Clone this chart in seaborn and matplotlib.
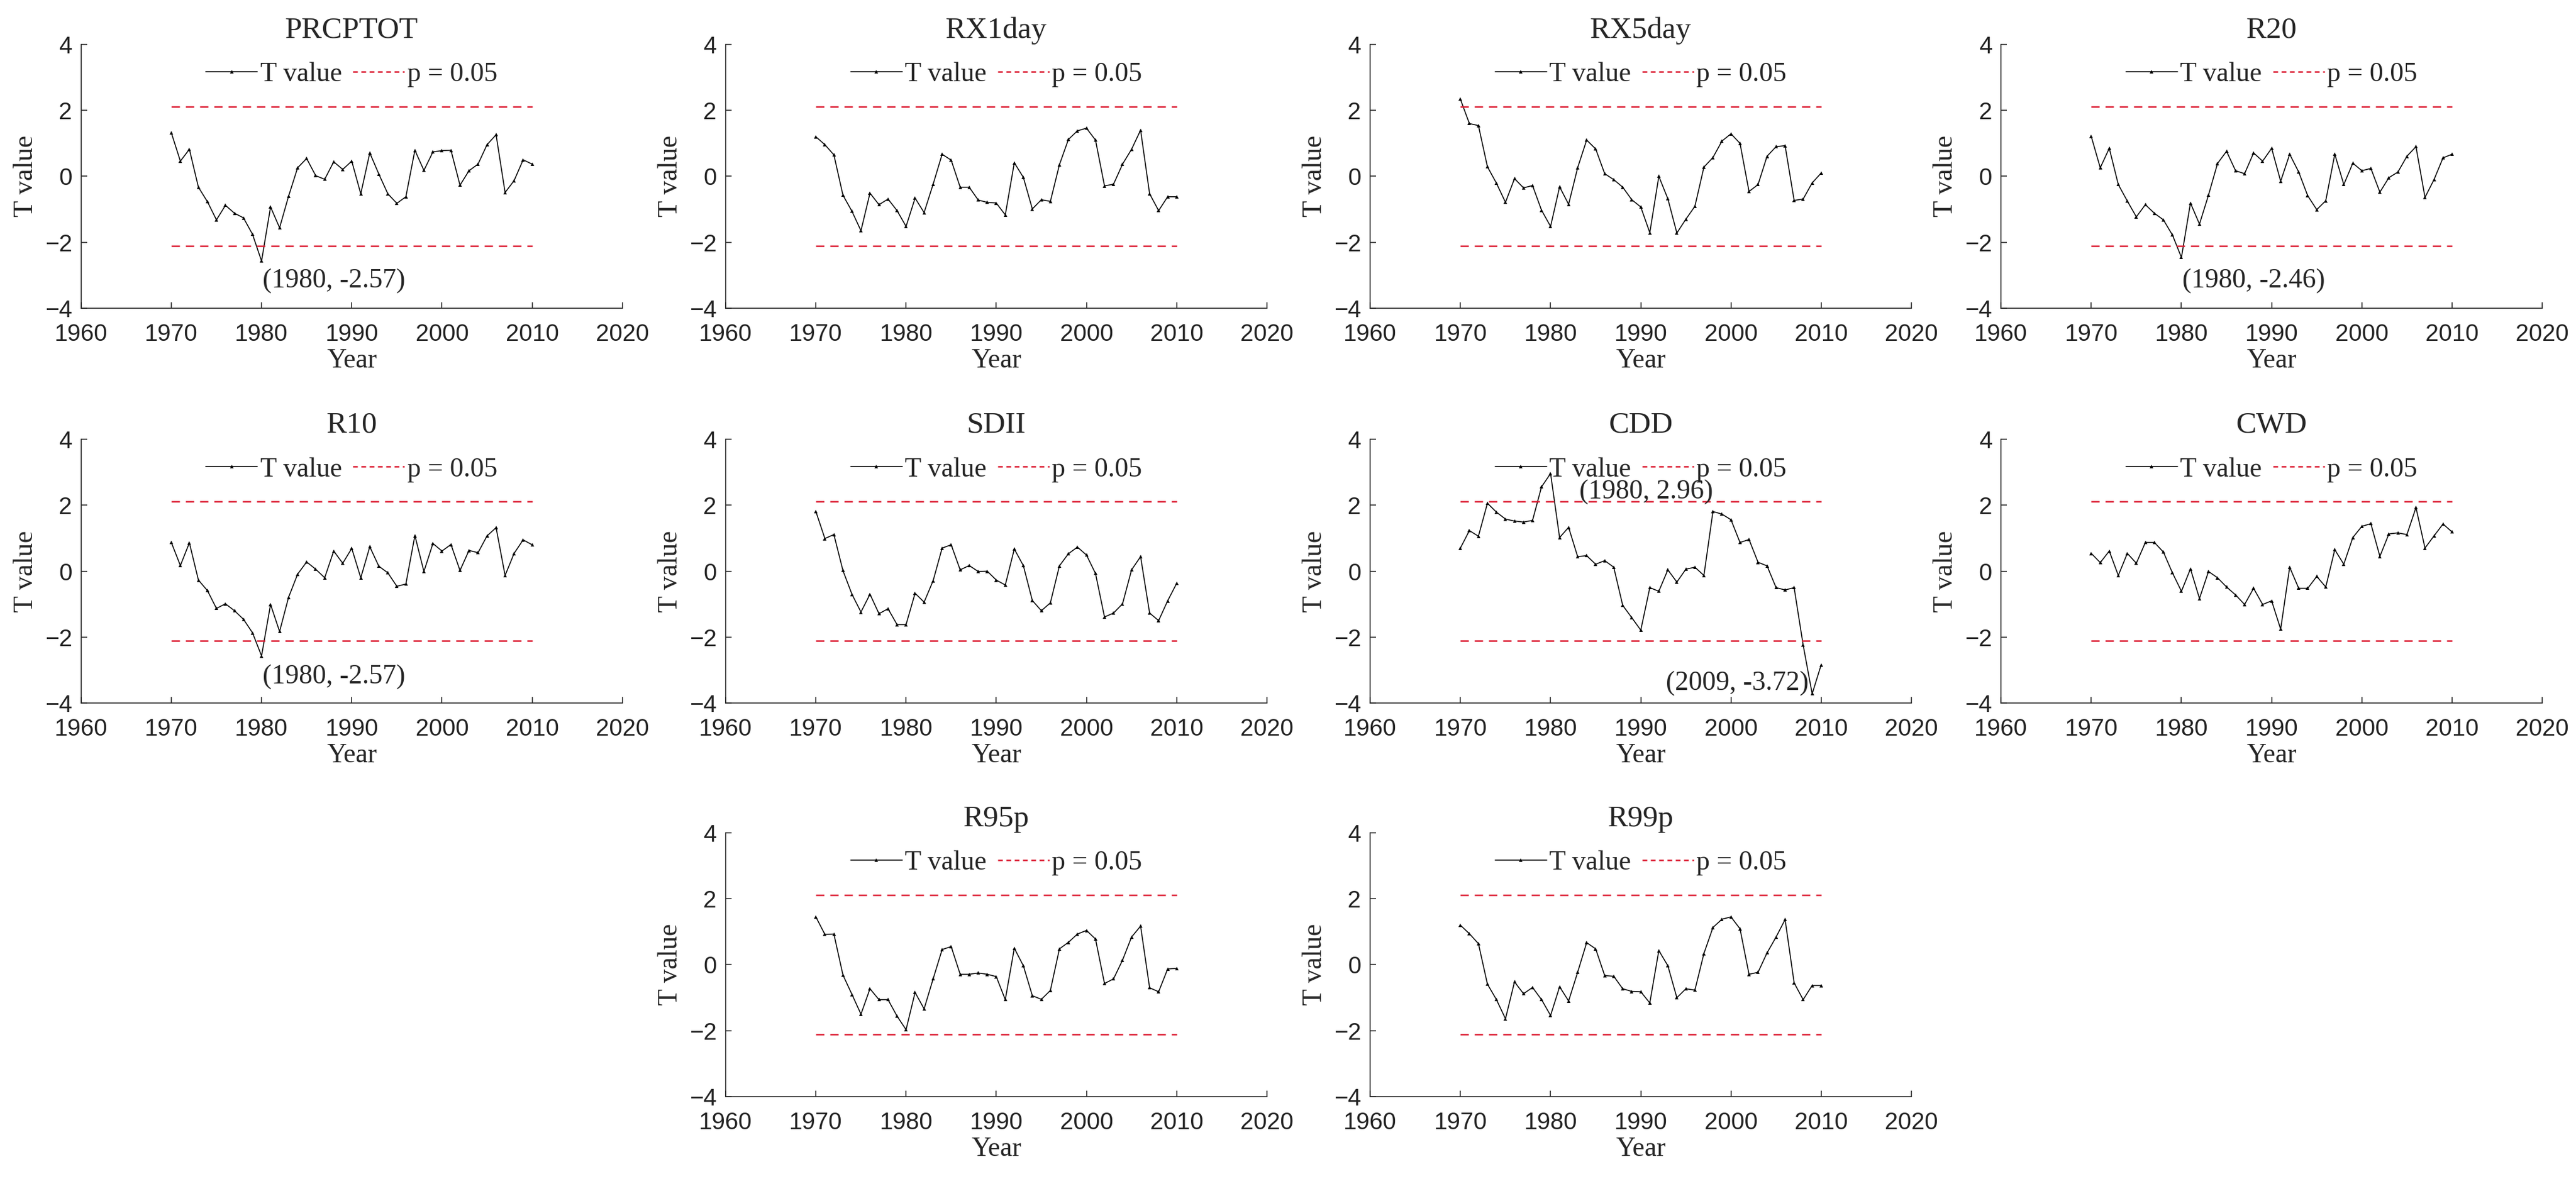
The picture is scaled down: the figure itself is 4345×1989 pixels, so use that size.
import numpy as np
import matplotlib
matplotlib.use("Agg")
import matplotlib.pyplot as plt
import seaborn as sns
from matplotlib.lines import Line2D

# Mann-Kendall style T values per index, 1970-2010
years = list(range(1970, 2011))

prcptot = [1.32, 0.46, 0.82, -0.33, -0.77, -1.32, -0.88, -1.12, -1.26, -1.76,
           -2.57, -0.93, -1.56, -0.60, 0.26, 0.54, 0.02, -0.09, 0.44, 0.21,
           0.46, -0.53, 0.71, 0.07, -0.53, -0.82, -0.62, 0.79, 0.18, 0.74,
           0.78, 0.79, -0.27, 0.17, 0.37, 0.96, 1.26, -0.49, -0.13, 0.50, 0.37]
rx1day = [1.20, 0.96, 0.65, -0.57, -1.06, -1.65, -0.51, -0.86, -0.69, -1.04,
          -1.52, -0.66, -1.10, -0.24, 0.67, 0.49, -0.33, -0.33, -0.72, -0.79,
          -0.81, -1.17, 0.41, -0.03, -0.99, -0.71, -0.76, 0.35, 1.12, 1.38,
          1.46, 1.10, -0.29, -0.24, 0.37, 0.82, 1.40, -0.53, -1.04, -0.62, -0.62]
rx5day = [2.34, 1.60, 1.54, 0.29, -0.21, -0.79, -0.07, -0.35, -0.28, -1.03,
          -1.52, -0.32, -0.85, 0.26, 1.10, 0.83, 0.08, -0.10, -0.33, -0.71,
          -0.93, -1.71, 0.00, -0.68, -1.72, -1.30, -0.91, 0.28, 0.57, 1.07,
          1.29, 1.00, -0.46, -0.25, 0.61, 0.90, 0.93, -0.73, -0.69, -0.20, 0.10]
r20 = [1.21, 0.26, 0.85, -0.25, -0.75, -1.23, -0.86, -1.12, -1.32, -1.78,
       -2.46, -0.81, -1.45, -0.57, 0.39, 0.76, 0.17, 0.08, 0.71, 0.46,
       0.85, -0.15, 0.67, 0.13, -0.59, -1.01, -0.74, 0.67, -0.25, 0.40,
       0.17, 0.24, -0.48, -0.04, 0.13, 0.61, 0.90, -0.64, -0.10, 0.56, 0.67]
r10 = [0.87, 0.17, 0.86, -0.27, -0.59, -1.13, -0.99, -1.20, -1.46, -1.87,
       -2.57, -1.01, -1.83, -0.79, -0.09, 0.28, 0.06, -0.20, 0.61, 0.24,
       0.69, -0.20, 0.74, 0.15, -0.05, -0.46, -0.39, 1.08, -0.01, 0.84,
       0.61, 0.81, 0.02, 0.63, 0.56, 1.07, 1.32, -0.13, 0.54, 0.95, 0.80]
sdii = [1.81, 0.99, 1.11, 0.02, -0.70, -1.24, -0.70, -1.29, -1.14, -1.62,
        -1.62, -0.67, -0.94, -0.29, 0.70, 0.80, 0.04, 0.17, -0.01, 0.00,
        -0.27, -0.42, 0.67, 0.17, -0.89, -1.20, -0.96, 0.16, 0.53, 0.73,
        0.49, -0.07, -1.39, -1.27, -0.99, 0.04, 0.44, -1.27, -1.50, -0.90, -0.37]
cdd = [0.70, 1.23, 1.06, 2.06, 1.79, 1.58, 1.52, 1.49, 1.54, 2.56,
       2.96, 1.02, 1.33, 0.44, 0.47, 0.21, 0.32, 0.12, -1.04, -1.41,
       -1.79, -0.50, -0.61, 0.04, -0.33, 0.06, 0.12, -0.13, 1.81, 1.73,
       1.56, 0.87, 0.96, 0.27, 0.16, -0.50, -0.57, -0.50, -2.24, -3.72, -2.84]
cwd = [0.54, 0.26, 0.61, -0.13, 0.54, 0.24, 0.87, 0.87, 0.58, -0.05,
       -0.61, 0.07, -0.83, -0.01, -0.20, -0.48, -0.72, -1.01, -0.52, -1.01,
       -0.90, -1.76, 0.12, -0.52, -0.52, -0.16, -0.48, 0.65, 0.21, 1.02,
       1.36, 1.44, 0.45, 1.13, 1.16, 1.11, 1.93, 0.70, 1.07, 1.43, 1.19]
r95p = [1.45, 0.92, 0.93, -0.31, -0.90, -1.50, -0.73, -1.06, -1.06, -1.56,
        -1.97, -0.84, -1.34, -0.43, 0.46, 0.55, -0.29, -0.29, -0.25, -0.29,
        -0.36, -1.06, 0.50, -0.03, -0.94, -1.05, -0.78, 0.48, 0.68, 0.93,
        1.04, 0.78, -0.57, -0.43, 0.14, 0.84, 1.17, -0.70, -0.82, -0.13, -0.11]
r99p = [1.20, 0.94, 0.64, -0.59, -1.06, -1.64, -0.52, -0.88, -0.69, -1.06,
        -1.54, -0.67, -1.10, -0.23, 0.67, 0.48, -0.33, -0.35, -0.73, -0.81,
        -0.82, -1.16, 0.43, -0.03, -1.00, -0.73, -0.77, 0.34, 1.13, 1.38,
        1.45, 1.09, -0.29, -0.23, 0.36, 0.84, 1.37, -0.55, -1.06, -0.63, -0.63]

index_names = ["PRCPTOT", "RX1day", "RX5day", "R20", "R10", "SDII", "CDD", "CWD", "R95p", "R99p"]
index_values = [prcptot, rx1day, rx5day, r20, r10, sdii, cdd, cwd, r95p, r99p]
p_crit = 2.11

# years to annotate per panel, with label positions
highlights = {
    "PRCPTOT": [(1980, (1988, -3.17))],
    "R20": [(1980, (1988, -3.17))],
    "R10": [(1980, (1988, -3.2))],
    "CDD": [(1980, (1990.6, 2.4)), (2009, (2000.7, -3.4))],
}

sns.set_style("ticks")
plt.rcParams["font.family"] = ["Liberation Sans", "DejaVu Sans"]
serif = ["Liberation Serif", "DejaVu Serif"]

fig = plt.figure(figsize=(43.45, 19.89), dpi=100)

col_left = [0.0315, 0.2817, 0.5319, 0.7768]
row_bottom = [0.7386, 0.4037, 0.0699]
w, h = 0.2101, 0.2237
slots = [(0, 0), (0, 1), (0, 2), (0, 3), (1, 0), (1, 1), (1, 2), (1, 3), (2, 1), (2, 2)]

axis_col = "#262626"
red = "#dc1a30"
dash = (0, (5.6, 4))

for name, vals, (r, c) in zip(index_names, index_values, slots):
    ax = fig.add_axes([col_left[c], row_bottom[r], w, h])
    sns.lineplot(x=years, y=vals, ax=ax, color="black", linewidth=1.2,
                 marker="^", markersize=5, markeredgewidth=0)
    for s in (p_crit, -p_crit):
        sns.lineplot(x=[years[0], years[-1]], y=[s, s], ax=ax, color=red,
                     linewidth=1.8, dashes=False, linestyle=dash)

    ax.set_xlim(1960, 2020)
    ax.set_ylim(-4, 4)
    ax.set_xticks(range(1960, 2021, 10))
    ax.set_yticks([-4, -2, 0, 2, 4])
    ax.tick_params(direction="in", length=7, width=1.2, colors=axis_col, labelsize=29)
    ax.tick_params(axis="x", pad=18)
    ax.tick_params(axis="y", pad=11)
    for t in ax.get_xticklabels() + ax.get_yticklabels():
        t.set_color("#222222")
    sns.despine(ax=ax)
    for sp in ("left", "bottom"):
        ax.spines[sp].set_color(axis_col)
        ax.spines[sp].set_linewidth(1.2)

    ax.set_title(name, family=serif, fontsize=37, pad=8)
    ax.set_xlabel("Year", family=serif, fontsize=33, labelpad=3)
    ax.set_ylabel("T value", family=serif, fontsize=33, labelpad=8)

    handles = [Line2D([], [], color="black", lw=1.2, marker="^", markersize=5, markeredgewidth=0),
               Line2D([], [], color=red, lw=1.8, linestyle=(0, (3.2, 2.4)))]
    ax.legend(handles, ["T value", "p = 0.05"], ncol=2, frameon=False,
              loc="center", bbox_to_anchor=(0.5, 0.885),
              prop={"family": serif, "size": 33}, handlelength=1.9,
              handletextpad=0.1, columnspacing=0.4, borderaxespad=0)

    for yr, (tx, ty) in highlights.get(name, []):
        v = vals[years.index(yr)]
        ax.annotate(f"({yr}, {v:.2f})", xy=(yr, v), xytext=(tx, ty),
                    ha="center", va="center", family=serif, fontsize=33)

fig.savefig("out.png", dpi=100)
